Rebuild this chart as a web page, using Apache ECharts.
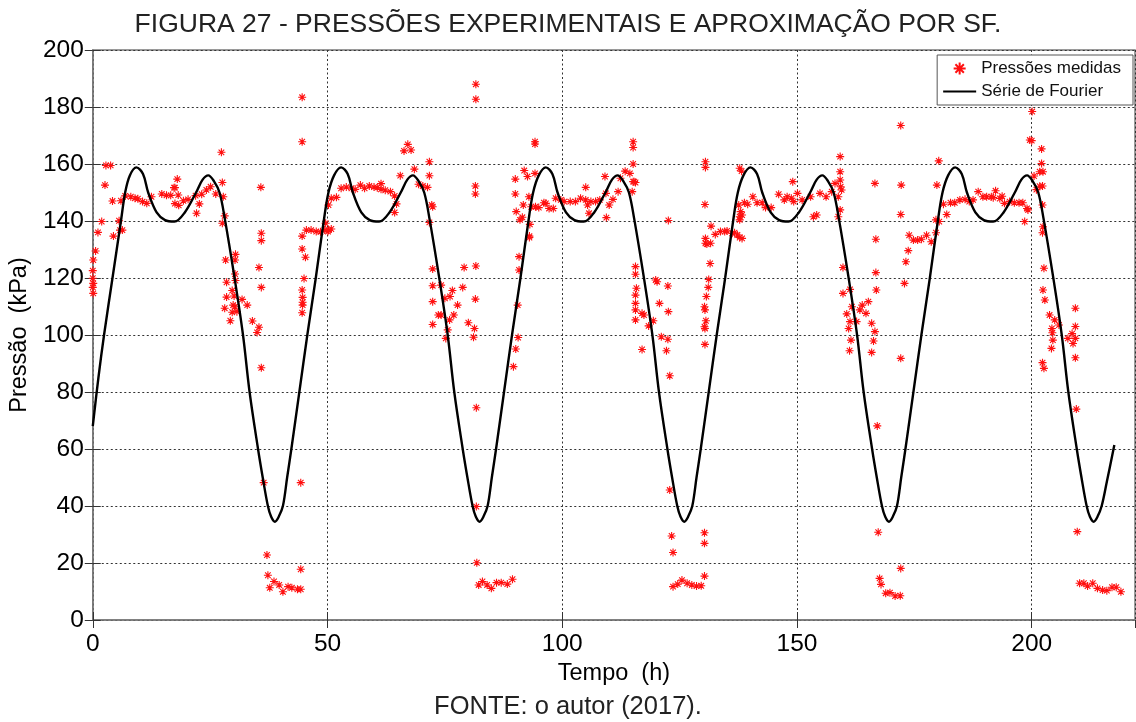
<!DOCTYPE html>
<html>
<head>
<meta charset="utf-8">
<script src="https://cdn.jsdelivr.net/npm/echarts@6/dist/echarts.min.js"></script>
<style>
html,body{margin:0;padding:0;background:#fff;}
#chart{width:1136px;height:722px;}
</style>
</head>
<body>
<div id="chart"></div>
<script>
// ---------- DATA ----------
const titleText = 'FIGURA 27 - PRESSÕES EXPERIMENTAIS E APROXIMAÇÃO POR SF.';
const sourceText = 'FONTE: o autor (2017).';
const xAxisName = 'Tempo  (h)';
const yAxisName = 'Pressão  (kPa)';
const seriesNames = ['Pressões medidas', 'Série de Fourier'];
const xTicks = [0, 50, 100, 150, 200];
const yTicks = [0, 20, 40, 60, 80, 100, 120, 140, 160, 180, 200];

// measured pressures [time h, pressure kPa]
const measuredCycle1 = [
  [0,122.6],[0,119.9],[0.1,118.1],[0,116.7],[0.1,114.6],[0.1,126.3],[0.6,129.5],[1.1,136],[1.9,139.8],[2.6,152.6],
  [2.8,159.5],[3.8,159.5],[4.2,147],[4.4,134.7],[5.6,140.1],[5.8,136.8],[6.3,136.8],[6.0,147.1],[6.9,148.8],[8.1,148.5],
  [9.0,148],[9.6,147.8],[10.6,146.8],[11.5,146.2],[12.5,148.5],[14.7,149.5],[15.7,149],[16.6,149],[17.3,151.7],[17.5,151.7],
  [18.0,154.7],[18.2,149.1],[17.5,146.1],[18.3,145.5],[19.3,147.1],[20.3,147.6],[21.9,148.9],[22.1,142.7],[22.7,146],[23.2,149.4],
  [24.2,150.9],[25.1,152],[26.2,149.5],[27.4,164.1],[27.6,153.5],[27.8,148.5],[28.1,141.8],[27.6,139.2],[28.3,126.3],[30.4,128.3],
  [30.3,126.3],[30.3,121.4],[30.4,119.1],[29.7,115.6],[30.1,113.7],[28.5,118.5],[28.5,113.3],[31.8,112.5],[35.8,151.8],[35.9,135.7],
  [35.9,133.1],[35.4,123.7],[35.9,116.7],
  [28.1,109.4],[29.9,110.5],[30.3,109.9],[29.7,108],[30.7,108.2],[29.3,105],[32.9,110.5],[34.0,104.9],[35.4,102.7],[35.0,100.9],
  [35.9,88.5],[36.4,48.2],[44.3,48.2],[37.1,22.8],[37.3,15.7],[38.6,13.5],[39.7,12.3],[37.7,11.3],[40.5,9.9],[41.6,11.7],
  [42.4,11.3],[43.6,10.8],[44.3,10.8],[44.3,17.8]
];
const measuredCycle2 = [
  [44.6,183.4],[44.6,167.8],[44.6,134.7],[44.6,130.2],[45.3,127.3],[45.0,119.8],[44.6,115.8],[44.7,113.2],[44.7,111.5],[44.7,110.5],
  [44.6,107.8],[45.5,136.8],[46.5,136.8],[47.6,136.3],[48.5,136.2],[49.4,136.8],[50.2,136.8],[49.6,139.2],[50.1,136.3],[50.2,145.6],
  [50.8,148],[51.9,148.3],[50.8,137.2],[52.9,151.5],[54,151.9],[55.1,151.5],[55.9,151.1],[57,152.6],[57.9,151.5],[58.9,152.3],
  [59.9,151.9],[60.6,151.7],[61.4,153.1],[61.4,151.1],[62.3,150.8],[63.4,150.3],[64.3,148.8],[64.7,146],[64.3,143],[65.5,155.9],
  [66.3,164.6],[67.1,166.9],[67.8,164.9],[68.5,158.2],[69.4,152.9],[70.3,152.3],[71.3,151.8],[71.7,160.8],[71.7,155.9],[72.2,145.6],
  [72.4,145],[71.7,139.5],[72.4,123.2],[72.4,117.3],[74.2,117.5],[75,112.9],[76.1,113.5],[76.6,115.6],[78.8,116.7],[79.1,123.7],
  [81.6,188],[81.6,182.7],[81.5,152.3],[81.5,149.5],[81.6,124.2],[81.5,112.6],
  [72.4,111.7],[72.4,103.7],[73.6,107],[74.2,107],[75.6,101.8],[75.2,98.8],[76,105.3],[76.9,107],[77.7,110.5],[80,104.3],
  [81.3,102.3],[81.1,99.2],[81.7,74.5],[81.7,39.8],[81.8,20.1],[82.2,12.3],[83,13.5],[84,12.3],[84.9,11.1],[86,13.1],
  [87,13.1],[88.3,12.6],[89.4,14.3]
];
const measuredCycle3 = [
  [90.5,110.5],[90.6,99.1],[90.1,95.1],[89.6,88.9],
  [90,154.7],[90,149.5],[90.2,143.3],[91,140.4],[91.5,141.3],[91.7,145.6],[91.9,157.7],[92.6,155.6],[94.2,167],[94.2,167.8],
  [94.2,156.7],[92.9,148.5],[93.1,138.8],[93,134.7],[93,134.2],[90.8,127.5],[90.8,122.8],[93.4,145],[94.3,145],[95,144.7],
  [96.1,146.4],[96.5,146.2],[97.2,144.4],[98.1,144.4],[98.6,148],[99.7,147.4],[100.4,146.8],[101.7,146.8],[102.8,146.8],
  [103.9,148],[105,147.4],[105.4,145.6],[106.1,146.8],[107.1,146.8],[105,151.8],[105.7,142.7],[108,147.4],[109.1,155.6],
  [109.3,149.7],[110,145.6],[110.8,147.6],[111.9,150.3],[112.4,155],[113.4,157.5],[114.4,156.7],[115.1,153.8],[115.6,153.5],
  [109.4,141.2],[115.1,167.8],[115.1,165.8],[115.1,160],[115.3,153.8],[114.9,150.3],[115.6,124],[115.6,121.3],[115.8,116.4],
  [115.6,114],[119.9,119.3],[120.2,118.7],[122.5,117.2],[122.6,140.2],
  [115.6,111.1],[115.6,108.8],[115.6,105.3],[117,107.6],[117.4,107],[117,94.9],[118.4,103.2],[119.4,105],[120.7,111.1],
  [121.1,99.4],[122.5,98.5],[122.2,94.5],[122.6,108.2],[122.9,85.7],[122.9,45.6],[123.3,29.5],[123.6,23.7],[123.6,11.7],
  [124.6,12.6],[125.5,14],[126.6,12.9],[127.6,12.3],[128.6,11.9],[129.6,12],[130.3,15.4],[130.3,26.9],[130.3,30.6]
];
const measuredCycle4 = [
  [130.3,109.9],[130.4,108.8],[130.6,105],[130.3,102.9],[130.4,102.3],[130.4,96.7],
  [130.5,160.8],[130.5,158.8],[130.4,145.8],[130.5,133.9],[130.5,132.2],[131.6,132.2],[131.7,138.2],[130.8,131.9],[131.5,125.1],
  [131.2,119.5],[131.1,116.7],[130.7,113.5],[132.6,135.3],[133.7,136.3],[134.6,136.3],[135.1,136.5],[136.2,135.7],[136.7,135.9],
  [137.3,135.1],[137.8,134.2],[138.3,133.9],[137.6,145.6],[138,143.3],[138.3,142.1],[137.8,158.5],[138.2,157.5],[138.8,146.4],
  [139.5,145.9],[140.6,148.5],[141.5,146.4],[142.6,146.4],[143.3,144.7],[144.5,144.7],[146.1,149.4],[147.3,147.4],[147.9,148.5],
  [148.8,148],[149.1,153.8],[149.3,146.8],[150.1,149.7],[151.1,147.4],[137.8,141.5],[137.8,140.4],[152.9,148.5],[153.5,141.5],
  [154.2,142.1],[154.9,149.7],[156.2,148.5],[157.4,150.3],[158.1,153.2],[159.2,162.6],[159.2,157.3],[159.2,154.4],[159.3,152],
  [158.8,148.5],[159.5,150.9],[159.2,143.9],[158.8,141.5],[159.8,123.7],[159.8,114.6],[161.3,116],[166.6,153.2],[166.8,133.6],
  [166.8,121.9],[166.9,115.8],
  [160.6,107.4],[161,102.3],[161.3,104.7],[161.5,98.2],[161.2,94.5],[161.7,109.9],[162.7,104.7],[163.4,108.8],[163.9,110.5],
  [164.7,107.6],[165.2,111.7],[165.9,104.1],[166.3,97.9],[166.6,101.2],[165.9,93.9],[172.1,91.8],[167.1,68.1],[167.3,30.8],
  [167.6,14.6],[167.9,12.5],[168.9,9.4],[169.8,9.6],[170.9,8.4],[172,8.5],[172.1,18.1]
];
const measuredCycle5 = [
  [172.1,173.5],[172.2,152.6],[172.1,142.3],[173.2,125.7],[173.7,129.6],[173.9,135],[174.8,133.3],[175.7,133.3],[176.5,133.6],
  [177.6,135],[178.6,132.7],[179.6,135.9],[172.9,118.1],[179.6,140.4],[180.3,139.8],[179.8,152.6],[180.2,161.1],[181.9,142.3],
  [181.2,145.9],[182.7,146.4],[183.6,146.4],[184.7,147.4],[185.8,147.6],[186.7,146.8],[187.5,147.4],[188.6,150.3],[189.6,148.5],
  [190.4,148.5],[191.4,148.5],[192.3,150.6],[191.8,148.2],[193.2,147.9],[193.7,148.7],[194.2,146.2],[195.3,146.8],[196.3,146.4],
  [197.3,146.4],[198.1,146.4],[199,144.4],[198.5,139.8],[199.2,143.9],[200.1,178.4],[199.6,168.4],[200,168.2],[202.1,165.3],
  [202.1,160.2],[201.7,157.3],[202.4,157.3],[200.5,155.8],[202.3,152.3],[201.7,152.2],[201,151],[202.3,145.6],[202.4,138],
  [202.3,135.9],[202.6,123.4],[202.4,115.8],[202.8,112.3],
  [202.3,90.3],[202.6,88.3],[203.8,107],[204.3,102.3],[204.4,100.8],[204.5,98.2],[204.2,95.3],[204.9,105.3],[205.8,103.5],
  [207.7,98.8],[208.6,100.5],[208.8,97],[209.3,98.8],[209.3,103],[209.3,109.4],[209.3,92],[209.5,74],[209.7,31],[210.2,12.9],
  [211.1,12.9],[211.9,11.9],[213,12.9],[214,11.1],[215.1,10.5],[216,10.3],[217.1,11.5],[218,11.5],[219,9.9]
];

// Fourier series curve [time h, pressure kPa]
const fourierPart1 = [
  [0,68],[1.2,85],[2.4,100],[4.2,120],[6.0,140],[6.9,150],[7.9,156],[9.3,158.8],[10.7,156.5],[11.8,150],[13.6,143],[15.4,140.3],
  [17.4,139.8],[19.6,143],[22.0,150],[23.4,154.5],[24.6,156],[25.8,154],[27.0,150],[28.1,141],[30.2,120],[32.0,100],[33.4,80],
  [35.2,60],[36.2,50],[37.3,40],[38.0,36.2],
  [38.8,34.5],[39.6,36.2],[40.5,40],[41.4,50],[42.3,60],[44.0,80],[45.7,100],[47.5,120],[49.2,140],[50.2,150],[51.4,156],
  [52.9,158.8],[54.3,156.5],[55.4,150],[57.2,143],[59.0,140.3],[61.0,139.8],[63.2,143],[65.6,150],[67.0,154.5],[68.2,156],
  [69.4,154],[70.6,150],[71.7,141],[73.8,120],[75.6,100],[77.0,80],[78.8,60],[79.8,50],[80.9,40],[81.6,36.2]
];
const fourierPart2 = [
  [82.4,34.5],[83.2,36.2],[84.1,40],[85.0,50],[85.9,60],[87.6,80],[89.3,100],[91.1,120],[92.8,140],[93.8,150],[95.0,156],
  [96.5,158.8],[97.9,156.5],[99.0,150],[100.8,143],[102.6,140.3],[104.6,139.8],[106.8,143],[109.2,150],[110.6,154.5],[111.8,156],
  [113.0,154],[114.2,150],[115.3,141],[117.4,120],[119.2,100],[120.6,80],[122.4,60],[123.4,50],[124.5,40],[125.2,36.2],
  [126.0,34.5],[126.8,36.2],[127.7,40],[128.6,50],[129.5,60],[131.2,80],[132.9,100],[134.7,120],[136.4,140],[137.4,150],
  [138.6,156],[140.1,158.8],[141.5,156.5],[142.6,150],[144.4,143],[146.2,140.3],[148.2,139.8],[150.4,143],[152.8,150],
  [154.2,154.5],[155.4,156],[156.6,154],[157.8,150],[158.9,141],[161.0,120],[162.8,100],[164.2,80],[166.0,60],[167.0,50],
  [168.1,40],[168.8,36.2]
];
const fourierPart3 = [
  [169.6,34.5],[170.4,36.2],[171.3,40],[172.2,50],[173.1,60],[174.8,80],[176.5,100],[178.3,120],[180.0,140],[181.0,150],
  [182.2,156],[183.7,158.8],[185.1,156.5],[186.2,150],[188.0,143],[189.8,140.3],[191.8,139.8],[194.0,143],[196.4,150],
  [197.8,154.5],[199.0,156],[200.2,154],[201.4,150],[202.5,141],[204.6,120],[206.4,100],[207.8,80],[209.6,60],[210.6,50],
  [211.7,40],[212.4,36.2],
  [213.2,34.5],[214.0,36.2],[214.9,40],[216.0,48.5],[217.6,61.4]
];

// ---------- CHART ----------
const measured = measuredCycle1.concat(measuredCycle2, measuredCycle3, measuredCycle4, measuredCycle5);
const fourier = fourierPart1.concat(fourierPart2, fourierPart3);

const FONT = 'Liberation Sans, Arial, sans-serif';
const asterisk = 'path://M5,0L5,10M0,5L10,5M1.5,1.5L8.5,8.5M1.5,8.5L8.5,1.5';
const frameColor = '#7a7a7a';
const gridLine = {show: true, lineStyle: {color: '#333', width: 1, type: [2, 2.5]}};

const chart = echarts.init(document.getElementById('chart'), null, {renderer: 'canvas'});
chart.setOption({
  backgroundColor: '#fff',
  animation: false,
  title: [
    {text: titleText, left: 'center', top: 6,
     textStyle: {fontFamily: FONT, fontSize: 26.5, fontWeight: 'normal', color: '#222'}},
    {text: sourceText, left: 'center', top: 689,
     textStyle: {fontFamily: FONT, fontSize: 25.5, fontWeight: 'normal', color: '#222'}}
  ],
  grid: {left: 91, right: 1, top: 50, bottom: 102, show: true, borderColor: frameColor, borderWidth: 1.5, backgroundColor: '#fff'},
  legend: {
    orient: 'vertical', right: 3, top: 55,
    itemWidth: 33, itemHeight: 12, itemGap: 6,
    padding: [5, 12, 5, 5],
    borderColor: '#555', borderWidth: 1, backgroundColor: '#fff', borderRadius: 0,
    textStyle: {fontFamily: FONT, fontSize: 17, color: '#111'},
    data: [
      {name: seriesNames[0], icon: asterisk},
      {name: seriesNames[1], itemStyle: {color: 'transparent', borderColor: 'transparent', borderWidth: 0, opacity: 0}}
    ]
  },
  xAxis: [{
    type: 'value', min: 0, max: 222, interval: 50,
    name: xAxisName, nameLocation: 'middle', nameGap: 36,
    nameTextStyle: {fontFamily: FONT, fontSize: 23.5, color: '#000'},
    axisLine: {show: true, lineStyle: {color: frameColor, width: 1.5}},
    axisTick: {show: true, inside: true, length: 8, lineStyle: {color: '#333'}},
    axisLabel: {fontFamily: FONT, fontSize: 24.5, color: '#000', margin: 12, showMaxLabel: false,
      formatter: v => xTicks.includes(v) ? String(v) : ''},
    splitLine: gridLine
  }, {
    type: 'value', min: 0, max: 222, interval: 50, position: 'top',
    axisLine: {show: false}, axisLabel: {show: false}, splitLine: {show: false},
    axisTick: {show: true, inside: true, length: 8, lineStyle: {color: '#333'}}
  }],
  yAxis: [{
    type: 'value', min: 0, max: 200, interval: 20,
    name: yAxisName, nameLocation: 'middle', nameGap: 57,
    nameTextStyle: {fontFamily: FONT, fontSize: 23.5, color: '#000'},
    axisLine: {show: true, lineStyle: {color: frameColor, width: 1.5}},
    axisTick: {show: true, inside: true, length: 8, lineStyle: {color: '#333'}},
    axisLabel: {fontFamily: FONT, fontSize: 24.5, color: '#000', margin: 9,
      formatter: v => yTicks.includes(v) ? String(v) : ''},
    splitLine: gridLine
  }, {
    type: 'value', min: 0, max: 200, interval: 20, position: 'right',
    axisLine: {show: false}, axisLabel: {show: false}, splitLine: {show: false},
    axisTick: {show: true, inside: true, length: 8, lineStyle: {color: '#333'}}
  }],
  series: [{
    name: seriesNames[0], type: 'scatter', xAxisIndex: 0, yAxisIndex: 0,
    symbol: asterisk, symbolSize: 8,
    itemStyle: {color: 'transparent', borderColor: '#ff1010', borderWidth: 1.1, opacity: 1},
    data: measured, z: 3
  }, {
    name: seriesNames[1], type: 'line', xAxisIndex: 0, yAxisIndex: 0,
    symbol: 'none', smooth: 0.35,
    lineStyle: {color: '#000', width: 2.4},
    itemStyle: {color: '#000'},
    data: fourier, z: 4
  }]
});
</script>
</body>
</html>
